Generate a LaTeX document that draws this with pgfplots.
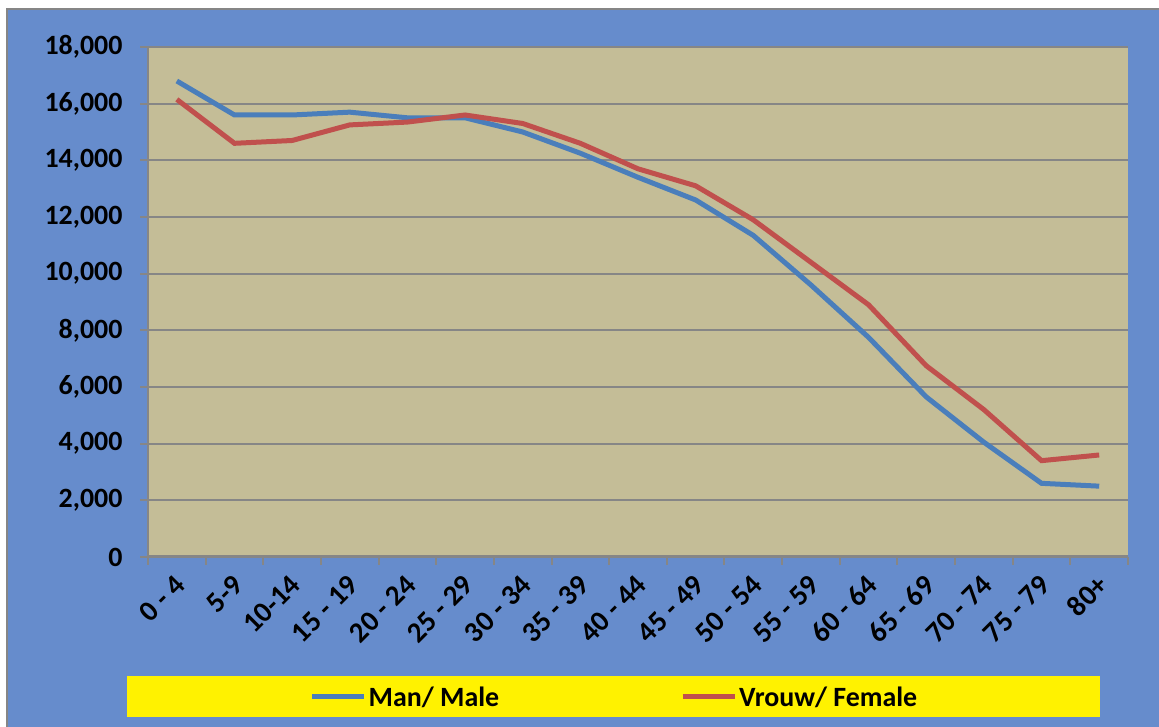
\documentclass[border=0pt]{standalone}
\usepackage{pgfplots}
\pgfplotsset{compat=1.18}
\usepackage{fontspec}
\setmainfont{Carlito}
\definecolor{bgblue}{RGB}{102,140,204}
\definecolor{plotbg}{RGB}{196,189,151}
\definecolor{gridgray}{RGB}{134,134,134}
\definecolor{maleblue}{RGB}{74,126,187}
\definecolor{femred}{RGB}{192,80,77}
\begin{document}
\begin{tikzpicture}[x=1bp,y=1bp]
\useasboundingbox (0,0) rectangle (1159,727);
\fill[bgblue] (7,0) rectangle (1159,718);
\draw[gridgray,line width=2bp] (7,0) -- (7,718) -- (1159,718);
\fill[yellow] (127,10) rectangle (1100,51);
\begin{axis}[
  at={(148bp,170bp)}, anchor=south west,
  width=980bp, height=510bp, scale only axis,
  xmin=-0.5, xmax=16.5, ymin=0, ymax=18000,
  axis background/.style={fill=plotbg},
  axis line style={draw=none},
  axis x line*=bottom, axis y line*=left,
  xtick={0,...,16},
  xticklabels={0 - 4,5-9,10-14,15 - 19,20 - 24,25 - 29,30 - 34,35 - 39,40 - 44,45 - 49,50 - 54,55 - 59,60 - 64,65 - 69,70 - 74,75 - 79,80+},
  minor xtick={-0.5,0.5,...,16.5},
  major x tick style={draw=none},
  minor x tick style={gridgray,line width=2bp},
  minor tick length=8bp,
  ytick={0,2000,...,18000},
  y tick style={gridgray,line width=2bp},
  major tick length=8bp,
  tick align=outside,
  ymajorgrids, major grid style={gridgray,line width=2bp},
  yticklabel style={font=\fontsize{28}{32}\selectfont\bfseries, xshift=-14bp},
  xticklabel style={font=\fontsize{29}{32}\selectfont\bfseries, yshift=-13bp, xshift=6bp, rotate=45, anchor=east},
  /pgf/number format/assume math mode=true,
  /pgf/number format/1000 sep={,},
  scaled y ticks=false,
  legend columns=2,
  legend style={at={(0.476,-0.2745)}, anchor=center, draw=none, fill=none,
    font=\fontsize{28}{30}\selectfont\bfseries,
    /tikz/every even column/.append style={column sep=179bp}},
  legend image code/.code={\draw[#1,line width=5bp] (0bp,0bp) -- (52bp,0bp);},
  clip=false,
]
\draw[gridgray,line width=3bp] (axis cs:-0.5,0) -- (axis cs:16.5,0);
\draw[gridgray,line width=2bp] (axis cs:-0.5,0) -- (axis cs:-0.5,18000);
\addplot[maleblue, line width=5bp] coordinates {
(0,16800) (1,15600) (2,15600) (3,15700) (4,15500) (5,15500) (6,15000) (7,14250) (8,13400) (9,12600) (10,11350) (11,9600) (12,7750) (13,5650) (14,4050) (15,2600) (16,2500)};
\addlegendentry{Man/ Male}
\addplot[femred, line width=5bp] coordinates {
(0,16150) (1,14600) (2,14700) (3,15250) (4,15350) (5,15600) (6,15300) (7,14600) (8,13700) (9,13100) (10,11900) (11,10400) (12,8900) (13,6750) (14,5200) (15,3400) (16,3600)};
\addlegendentry{Vrouw/ Female}
\end{axis}
\end{tikzpicture}
\end{document}
